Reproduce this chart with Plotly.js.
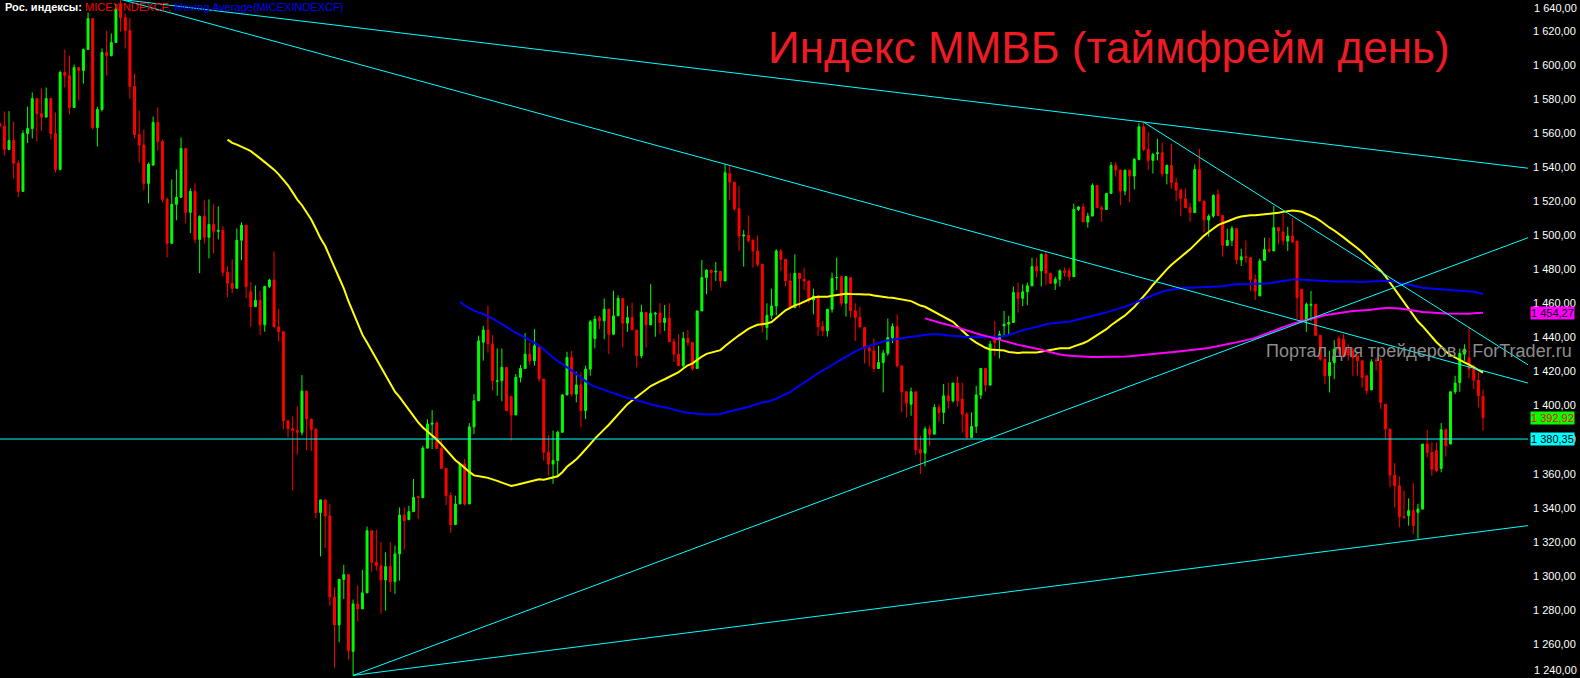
<!DOCTYPE html>
<html>
<head>
<meta charset="utf-8">
<script src="https://cdn.plot.ly/plotly-3.0.1.min.js"></script>
<style>
html,body{margin:0;padding:0;background:#000;}
#chart{width:1580px;height:678px;}
</style>
</head>
<body>
<div id="chart"></div>
<script>
// ---- data ----
const opens = [
1565.7,1564.1,1550.4,1555.7,1542.4,1525.8,1559.8,1562.7,1580.3,1571.5,
1569.4,1580.3,1559.8,1538.7,1595.6,1593.8,1575.1,1598.5,1596.8,1609.1,
1627.3,1563.3,1573.9,1607.3,1605.6,1613.2,1635.5,1627.8,1620.2,1587.4,
1559.2,1553,1530.5,1541.2,1566.3,1555.1,1521.1,1495.3,1518.2,1522.3,
1551,1513.5,1525.8,1497.6,1511.1,1498.8,1506.4,1502.3,1502.9,1478.3,
1471.8,1468.9,1497.1,1505.9,1466.9,1458.1,1461.8,1447.5,1470,1473.7,
1446.2,1443.4,1391.1,1386.4,1385.4,1384.3,1408.5,1392.1,1386,1337.2,
1344.6,1335.2,1287.6,1271.2,1297.9,1300.7,1255.6,1283.5,1280.6,1290,
1326.5,1308,1306,1297.6,1305.4,1296.6,1312.9,1335.7,1333,1337.7,
1346.5,1345.9,1375,1389.1,1389.7,1374.8,1363.1,1347.1,1330.1,1342.2,
1365.7,1342.2,1387.5,1402.8,1437.2,1444.4,1436.1,1414.2,1414.6,1422.4,
1405.2,1394.5,1416.6,1421.8,1430.2,1426.3,1434.1,1415.6,1372.6,1365.7,
1367.7,1384.3,1406.2,1428.3,1406.8,1412.1,1397,1421.4,1439.4,1451.5,
1449.8,1456.6,1441.9,1452.7,1462.9,1448.4,1451.7,1444.3,1429.3,1454.7,
1447.4,1453.7,1454.3,1448.8,1451.3,1437.5,1430.2,1423.4,1439.4,1437.1,
1421.8,1455.6,1475.2,1479.5,1478.5,1478.9,1473.2,1536.3,1531.2,1515.6,
1499.6,1500,1497,1490.8,1483,1445.8,1453,1458.5,1490.8,1485.9,
1473.2,1457.5,1477.7,1474.2,1473.2,1462,1464.4,1446.4,1443.9,1456.6,
1475.1,1475.7,1460.1,1475.1,1455.6,1451.7,1445.8,1433.7,1432.1,1421.8,
1425.3,1430.8,1439.9,1446.4,1423.3,1408.1,1400.8,1408.1,1374.1,1372.1,
1386.2,1383.2,1398.9,1396,1405.7,1402.8,1413.2,1403.8,1395,1381.3,
1387.8,1406.2,1421.8,1412,1439,1439,1446.8,1447.8,1448.8,1466.4,
1463,1466.8,1470.3,1481.6,1479.1,1488.8,1477.7,1471.8,1474.2,1479.1,
1479.1,1475.7,1515.2,1516.6,1507.8,1511.3,1529.3,1516.2,1515.2,1524.6,
1541,1538.3,1526,1538.3,1534.8,1544.6,1563.7,1550.4,1544,1547.9,
1548.5,1536.3,1541,1530.9,1526.6,1521.5,1516.2,1513.3,1538.7,1520.1,
1509,1511.3,1524,1511.7,1494.1,1497,1503.9,1485.5,1487.4,1486.9,
1474.1,1464.4,1485.3,1491.7,1490.8,1504.5,1501.9,1496.6,1499.6,1496.6,
1468.3,1449.7,1458.9,1459.5,1441.3,1427.2,1417.5,1425.3,1439.3,1439,
1433.1,1432.1,1429.2,1426.3,1417.5,1409.2,1426.6,1426.3,1400.8,1386.2,
1359.2,1352.9,1334.9,1335.3,1338.3,1337.3,1339.2,1377.4,1372.5,1373.5,
1363.1,1385.8,1377.4,1408.1,1413.5,1430.2,1428,1421.4,1414.9,1405.5
];
const highs = [
1566.5,1572.7,1572.9,1566.8,1544,1561.6,1575.6,1583.9,1580.3,1586.2,
1586.8,1580.3,1572.1,1596.8,1609.1,1605.6,1600.3,1598.5,1609.7,1630.8,
1627.3,1575.6,1609.7,1620.2,1618.5,1636,1638.4,1630.2,1627.8,1595,
1573.3,1562.2,1542.8,1569.8,1575.1,1556.3,1522.3,1532.8,1538.7,1557.5,
1551,1527.6,1530.5,1511.7,1520.5,1521.1,1518.2,1517,1505.3,1481.8,
1485.9,1504.1,1507.6,1505.9,1472.5,1470.6,1467.5,1470,1474.5,1490.5,
1456.7,1443.4,1391.1,1393.6,1399.7,1417.9,1408.5,1392.1,1387,1344.6,
1344.6,1342.3,1293.2,1297.9,1306.5,1300.7,1286.1,1294.3,1303.5,1328.9,
1326.5,1327.1,1319.7,1313.8,1319.7,1317.8,1340.2,1340.2,1341.2,1356.9,
1347.1,1376.4,1392,1397.3,1390.7,1380.3,1363.1,1349,1347.1,1365.7,
1368.6,1389.7,1406.7,1441.1,1446.8,1458.7,1441.4,1433.6,1433.6,1422.4,
1405.8,1418.5,1423.8,1442.5,1437.1,1444.9,1435.1,1415.6,1382.7,1385.3,
1385.3,1406.8,1431.6,1432.2,1419.9,1419.5,1423.4,1450.2,1452.7,1452.7,
1462.9,1456.6,1467.4,1464.8,1462.9,1458.6,1460.5,1444.3,1459.2,1454.7,
1471.3,1455.1,1460.1,1459,1460.1,1439.4,1441.9,1443.3,1444.3,1437.1,
1455.6,1485.6,1480.1,1479.5,1484.4,1478.9,1541.7,1540.6,1531.2,1528.9,
1503.1,1511.7,1498,1500,1483,1460.1,1468.7,1491.8,1491.8,1485.9,
1477.7,1488.8,1477.7,1481,1473.2,1468.7,1464.4,1449.7,1456.6,1478.1,
1486.9,1475.7,1475.7,1475.1,1460.1,1458.1,1445.8,1435.4,1439.4,1435.1,
1432.7,1451.1,1448.3,1453.6,1423.3,1408.1,1410.6,1408.1,1382.3,1387.7,
1388.5,1400.8,1400.8,1412.6,1413.5,1413.5,1417.1,1413.5,1396,1396,
1411.6,1421.8,1421.8,1438,1449.7,1443.9,1455.6,1452.7,1469.9,1472.2,
1471.2,1472.2,1486.9,1486.9,1489.4,1490.2,1477.7,1475.7,1480,1481,
1481,1518.7,1517.2,1518.7,1513.3,1530.5,1529.3,1517.6,1524.6,1543,
1543,1538.7,1538.3,1538.3,1545.5,1565.7,1566.5,1560.6,1548.5,1556.7,
1554.3,1541.6,1553.7,1533.8,1527.4,1527.4,1519.1,1541.6,1550.8,1520.1,
1512.3,1524,1526.9,1511.7,1503.9,1505.4,1503.9,1492.1,1497,1486.9,
1477.1,1486.3,1498.6,1498.6,1517.2,1504.5,1512.7,1505,1510.3,1496.6,
1468.3,1460.5,1467.3,1459.5,1441.3,1428.2,1432.1,1438.4,1441,1441.9,
1436,1434.1,1429.2,1426.3,1417.5,1427.2,1428.2,1428.2,1400.8,1386.2,
1366.2,1358.4,1350,1345.5,1354.5,1342.2,1377.4,1385.8,1378.4,1378.4,
1389.7,1386.6,1408.1,1417.5,1433.5,1436,1446.4,1424,1419.4,1409.7
];
const lows = [
1563.5,1546.9,1550.4,1533.4,1522.5,1525.8,1554.3,1556.9,1555.1,1561.2,
1569.4,1556.3,1536.9,1538.1,1586.8,1571,1575.1,1579.2,1589.1,1609.1,
1562.2,1552.2,1572.7,1593.8,1605,1613.2,1619.6,1609.7,1580.3,1556.9,
1542.8,1526.4,1518.8,1541.2,1549.8,1519.3,1487.1,1495.3,1508.8,1522.3,
1507,1501.2,1495.3,1477.7,1495.3,1486.5,1489.4,1497.6,1475.9,1463.6,
1466,1468.9,1485.3,1463.2,1446.2,1458.1,1441.3,1443.4,1469,1446.2,
1437.6,1386,1381.3,1350.1,1371.2,1382.5,1373.7,1373.3,1333.7,1311.4,
1316.3,1282.3,1246,1261,1286.4,1250.7,1241.5,1273.2,1280.6,1290,
1302.1,1303.1,1277.7,1279.6,1290.4,1289.4,1297.2,1315.4,1333,1337.7,
1333.4,1345.9,1375,1374.4,1374.8,1362.7,1341.6,1325.2,1330.1,1342.2,
1341.2,1342.2,1383.2,1402.8,1426.4,1431.1,1408.7,1405.8,1402.5,1397,
1379.4,1394.5,1413.6,1421.8,1423.8,1423.4,1414,1367.7,1358.9,1354,
1358.9,1384.3,1406.2,1405.4,1401.9,1387.2,1392.1,1417.5,1433.6,1444.9,
1439,1430.2,1441.9,1452.7,1434.1,1443.3,1444.5,1422.4,1427.9,1434.1,
1447.4,1440.4,1441.9,1443.9,1437.5,1425.7,1423.4,1422.4,1435.1,1420.5,
1421.8,1455.6,1465.4,1467.4,1473.2,1469.3,1473.2,1520.7,1514.2,1490.8,
1481.6,1495.7,1481,1481.6,1442.9,1438.6,1450.7,1453,1479,1470.2,
1456.9,1457.5,1457.5,1467.9,1460.1,1453.6,1440.9,1440.9,1440.5,1454.6,
1467.9,1458.5,1452.3,1451.7,1438,1445.8,1424.7,1422.9,1419.8,1421.8,
1407.7,1429.2,1436.6,1422.4,1396,1393,1394,1370.9,1359.8,1364.3,
1376,1383.2,1390.5,1389.1,1398.3,1401.8,1399.5,1384.2,1380,1381.3,
1383.9,1403.8,1408.1,1412,1429.2,1427.7,1441,1441.9,1448.8,1454.6,
1458.5,1458.9,1470.3,1475.2,1469.9,1470.7,1471.8,1467.9,1469.9,1475.7,
1473.2,1475.7,1514.3,1507.8,1504.5,1511.3,1516.2,1507.8,1515.2,1524.6,
1534.4,1517.6,1523.5,1519.5,1527,1544,1549.4,1538.3,1536.3,1544,
1534.4,1529.9,1527.4,1520.1,1511.3,1516.2,1507.8,1513.3,1520.1,1501.6,
1499.2,1510.3,1511.3,1487.4,1493.7,1493.7,1482.9,1482,1483.9,1467.3,
1462,1464.4,1485.3,1489.8,1490.8,1494.7,1494.1,1490.8,1496,1450.7,
1448.7,1443.3,1449.7,1441.3,1426.3,1412.6,1407.7,1415.5,1430,1428.2,
1426.3,1417.5,1417.5,1410.6,1406.7,1409.2,1420.4,1397.9,1380.3,1352,
1340.2,1328.5,1333.4,1329.5,1324.6,1321.7,1339.2,1369.6,1358.8,1360.8,
1360.8,1370.1,1377.4,1406.7,1408.1,1426.3,1416,1409.6,1398.9,1385.2
];
const closes = [
1564.1,1550.4,1555.7,1542.4,1525.8,1559.8,1562.7,1580.3,1571.5,1569.4,
1580.3,1559.8,1538.7,1595.6,1593.8,1575.1,1598.5,1596.8,1609.1,1627.3,
1563.3,1573.9,1607.3,1605.6,1613.2,1632.5,1627.8,1620.2,1587.4,1559.2,
1553,1530.5,1541.8,1566.3,1555.1,1521.1,1495.3,1518.2,1522.3,1551,
1513.5,1525.8,1497.6,1511.1,1498.8,1506.4,1502.3,1502.9,1478.3,1471.8,
1468.9,1497.1,1505.9,1470,1458.1,1461.8,1447.5,1470,1473.7,1446.2,
1443.4,1391.1,1386.4,1385.4,1384.3,1408.5,1392.1,1386,1337.2,1344.6,
1335.2,1287.6,1271.2,1297.9,1300.7,1255.9,1283.5,1280.6,1290,1326.5,
1308,1306,1297.6,1305.4,1296.6,1312.9,1335.7,1332.4,1337.7,1346.1,
1345.9,1375,1389.1,1389.7,1374.8,1363.1,1347.1,1330.1,1342.2,1365.7,
1342.2,1387.5,1402.8,1438,1444.4,1436.2,1414.6,1414.6,1422.4,1397,
1394.5,1416.6,1421.8,1430.2,1426.3,1435.1,1415.6,1372.6,1365.7,1367.7,
1384.3,1406.2,1428.3,1406.8,1412.1,1397,1421.4,1449.2,1450.8,1449.8,
1456.6,1441.9,1452.7,1462.9,1448.4,1451.7,1444.5,1429.3,1454.7,1447.4,
1454.1,1454.3,1448.8,1451.3,1437.5,1430.2,1423.4,1439.4,1437.1,1421.8,
1455.6,1475.2,1479.5,1478.1,1478.9,1473.2,1536.8,1531.2,1515.6,1499.6,
1500.2,1497,1490.8,1483,1446.8,1453,1458.5,1490.8,1485.9,1473.2,
1457.5,1477.7,1474.5,1473.2,1462,1464.4,1446.4,1443.9,1456.6,1474.7,
1475.3,1460.1,1475.7,1455.6,1451.7,1446.2,1433.7,1432.1,1421.8,1425.3,
1430.8,1439.9,1446.4,1423.3,1408.1,1401.4,1408.1,1374.1,1372.1,1386.2,
1383.2,1398.9,1396,1405.7,1402.8,1413.2,1402.8,1395,1381.3,1387.8,
1406.2,1421.8,1412,1436.1,1437,1441.9,1447.8,1448.8,1466.4,1463,
1466.8,1470.3,1481.6,1479.1,1488.8,1477.7,1471.8,1474.2,1479.1,1478.1,
1475.7,1515.2,1516.6,1507.8,1511.3,1529.3,1516.2,1515.2,1524.6,1541,
1538.3,1526,1538.3,1534.8,1544.6,1563.7,1550.4,1544,1547.5,1548.5,
1536.3,1541,1530.9,1526.6,1521.5,1516.2,1513.3,1538.7,1520.1,1509,
1511.3,1523.5,1511.7,1494.1,1497,1503.9,1485.5,1487.4,1486.9,1474.1,
1467.3,1484.9,1491.7,1490.8,1504.5,1502.5,1497,1499.6,1496,1463.4,
1449.7,1459.5,1459.5,1441.3,1427.2,1417.5,1425.3,1433.1,1433.1,1429.6,
1429.6,1428.2,1426.3,1416.5,1408.7,1425.7,1426.3,1401.8,1386.2,1359.2,
1352.9,1334.9,1334.4,1338.3,1329.5,1339.2,1377.4,1372.5,1362.7,1361.7,
1385.8,1376.4,1408.1,1413.2,1430.7,1433.1,1421.4,1414.9,1405.7,1392.92
];

// moving average periods (Moving Average indicators on the chart)
const maPeriods = [50, 100, 200];

// user-drawn trend lines: start/end (bar index, price)
const trendStartX = [26, 26, 246, 76, 76];
const trendStartY = [1638.6, 1638.6, 1566.5, 1241.5, 1241.5];
const trendEndX   = [328.7, 328.7, 328.7, 328.7, 328.7];
const trendEndY   = [1539.4, 1413.2, 1423.9, 1498.6, 1329.5];

// horizontal level and price-scale markers
const levelPrice = 1380.35;
const ma200Last = 1454.27;
const priceTicks = [1240,1260,1280,1300,1320,1340,1360,1380,1400,1420,1440,1460,1480,1500,1520,1540,1560,1580,1600,1620,1640];

// ---- helpers ----
function fmt(v, dec) {
  const s = v.toFixed(dec);
  const parts = s.split('.');
  const intPart = parts[0];
  const th = intPart.length > 3 ? intPart.slice(0, intPart.length - 3) + ' ' + intPart.slice(-3) : intPart;
  return dec > 0 ? th + ',' + parts[1] : th;
}
function sma(arr, p) {
  const xs = [], ys = [];
  let sum = 0;
  for (let i = 0; i < arr.length; i++) {
    sum += arr[i];
    if (i >= p) sum -= arr[i - p];
    if (i >= p - 1) { xs.push(i); ys.push(sum / p); }
  }
  return {xs, ys};
}

const idx = closes.map((_, i) => i);
const upIdx = idx.filter(i => closes[i] >= opens[i]);
const dnIdx = idx.filter(i => closes[i] < opens[i]);

function wickTrace(ids, color) {
  const x = [], y = [];
  ids.forEach(i => { x.push(i, i, null); y.push(lows[i], highs[i], null); });
  return {type:'scatter', mode:'lines', x, y, line:{color, width:1}, hoverinfo:'skip'};
}
function bodyTrace(ids, color, up) {
  return {
    type:'bar', x: ids,
    base: ids.map(i => up ? opens[i] : closes[i]),
    y: ids.map(i => Math.abs(closes[i] - opens[i])),
    width: 0.42,
    marker:{color, line:{color, width:1}},
    hoverinfo:'skip'
  };
}

const GREEN = '#00ff00', RED = '#ff0000', CYAN = '#00ffff';
const maColors = ['#ffff00', '#0000ff', '#ff00ff'];

const traces = [
  wickTrace(upIdx, GREEN), wickTrace(dnIdx, RED),
  bodyTrace(upIdx, GREEN, true), bodyTrace(dnIdx, RED, false)
];
maPeriods.forEach((p, k) => {
  const m = sma(closes, p);
  traces.push({type:'scatter', mode:'lines', x:m.xs, y:m.ys, line:{color:maColors[k], width:2}, hoverinfo:'skip'});
});
trendStartX.forEach((x0, k) => {
  traces.push({type:'scatter', mode:'lines', x:[x0, trendEndX[k]], y:[trendStartY[k], trendEndY[k]],
    line:{color:CYAN, width:1}, hoverinfo:'skip'});
});

const yMin = 1240, yMax = 1638.2;
const visTicks = priceTicks.filter(v => v > yMin + 1 && v < yMax - 1);
const edgeTicks = priceTicks.filter(v => !(v > yMin + 1 && v < yMax - 1));
const lastClose = closes[closes.length - 1];

const axisFont = {family:'Liberation Sans, Arial, sans-serif', size:11, color:'#ffffff'};
function priceBox(v, bg, fg) {
  return {xref:'paper', yref:'y', x:1, y:v, xanchor:'left', yanchor:'middle', xshift:2,
    text: fmt(v, 2), showarrow:false, bgcolor:bg, borderpad:0,
    font:{family:axisFont.family, size:11, color:fg}};
}

const annotations = [
  {xref:'paper', yref:'paper', x:0.7261, y:0.9302, xanchor:'center', yanchor:'middle', showarrow:false,
   text:'Индекс ММВБ (таймфрейм день)', font:{family:'Liberation Sans, Arial, sans-serif', size:44, color:'#ed1c24'}},
  {xref:'paper', yref:'paper', x:0.9287, y:0.4827, xanchor:'center', yanchor:'middle', showarrow:false,
   text:'Портал для трейдеров - ForTrader.ru', font:{family:'Liberation Sans, Arial, sans-serif', size:18, color:'#8c8c8c'}},
  {xref:'paper', yref:'paper', x:0.0022, y:0.9904, xanchor:'left', yanchor:'middle', showarrow:false,
   text:'<b>Рос. индексы:</b> <span style="color:#ff0000">MICEXINDEXCF;</span> <span style="color:#0000ff">Moving Average(MICEXINDEXCF)</span>',
   font:{family:'Liberation Sans, Arial, sans-serif', size:11, color:'#ffffff'}},
  priceBox(ma200Last, '#ff00ff', '#000000'),
  priceBox(lastClose, '#00ff00', '#ff0000'),
  priceBox(levelPrice, '#00ffff', '#000000')
];
// price labels on the very edges of the price scale, nudged inside so they stay readable
edgeTicks.forEach(v => {
  const atBottom = v <= yMin + 1;
  annotations.push({xref:'paper', yref:'paper', x:1, y: atBottom ? 0 : 1,
    xanchor:'left', yanchor: atBottom ? 'bottom' : 'top', xshift:4, yshift: 0,
    text: fmt(v, 2), showarrow:false, font:axisFont});
});

const layout = {
  width:1580, height:678,
  margin:{l:0, r:52, t:0, b:0, pad:0},
  paper_bgcolor:'#000000', plot_bgcolor:'#000000',
  showlegend:false, hovermode:false, barmode:'overlay', dragmode:false,
  xaxis:{range:[0.065, 328.67], visible:false, fixedrange:true},
  yaxis:{range:[yMin, yMax], side:'right', showgrid:false, zeroline:false, showline:false,
    ticks:'', tickvals:visTicks, ticktext:visTicks.map(v => fmt(v, 2)), tickfont:axisFont,
    ticklabelstandoff:4, fixedrange:true},
  shapes:[{type:'line', xref:'paper', yref:'y', x0:0, x1:1, y0:levelPrice, y1:levelPrice,
    line:{color:CYAN, width:1}}],
  annotations
};

Plotly.newPlot('chart', traces, layout, {displayModeBar:false, staticPlot:true});
</script>
</body>
</html>
